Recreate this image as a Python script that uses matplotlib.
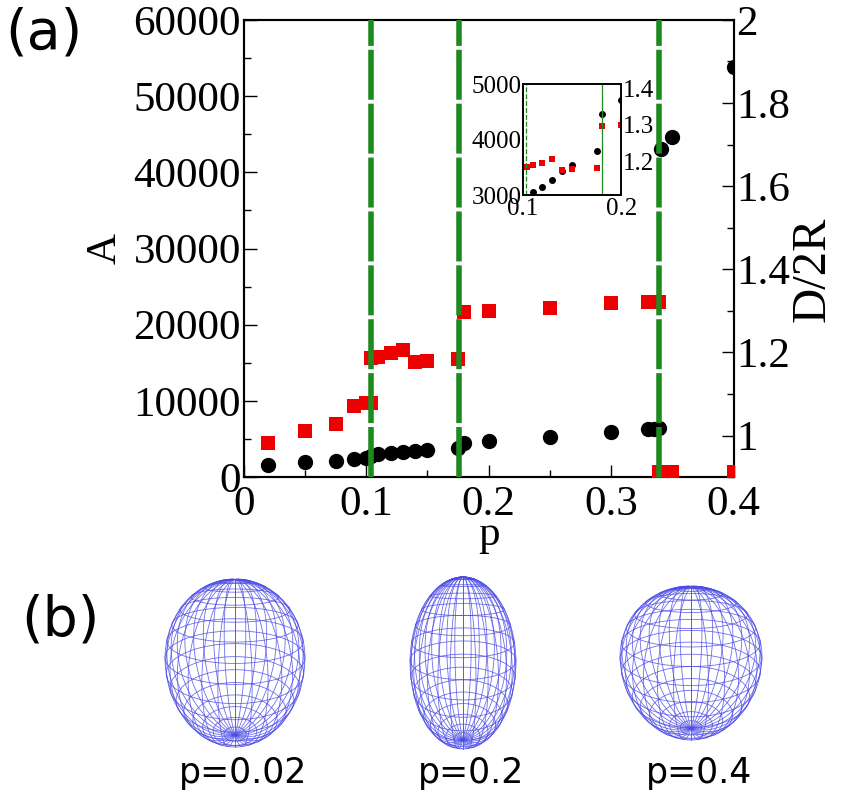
import numpy as np
import matplotlib.pyplot as plt
from matplotlib.ticker import MultipleLocator

# ---- data ----
p_A = [0.02, 0.05, 0.075, 0.09, 0.1, 0.104, 0.11, 0.12, 0.13, 0.14, 0.15,
       0.175, 0.18, 0.2, 0.25, 0.3, 0.33, 0.335, 0.339, 0.341, 0.35, 0.4]
A = [1570, 2000, 2100, 2450, 2580, 2800, 3050, 3150, 3280, 3430, 3550,
     3800, 4460, 4720, 5280, 5940, 6290, 6350, 6400, 43060, 44630, 53800]

p_D = [0.02, 0.05, 0.075, 0.09, 0.1, 0.104, 0.104, 0.11, 0.12, 0.13, 0.14,
       0.15, 0.175, 0.18, 0.2, 0.25, 0.3, 0.33, 0.335, 0.339, 0.339, 0.345,
       0.35, 0.4]
D = [0.982, 1.010, 1.028, 1.071, 1.079, 1.079, 1.186, 1.190, 1.198, 1.207,
     1.178, 1.180, 1.184, 1.297, 1.300, 1.308, 1.318, 1.321, 1.321, 1.321,
     0.913, 0.913, 0.913, 0.913]

p_trans = [0.104, 0.1755, 0.339]      # dashed green lines
p_trans_inset = [0.103, 0.18]

# shapes in panel (b): half extents on screen (px) and egg taper
shape_p = ["p=0.02", "p=0.2", "p=0.4"]
shape_a = [70, 53, 71]
shape_c = [84, 86, 77]
shape_k = [0.06, 0.0, 0.10]

SERIF = "Liberation Serif"
GREEN = "#1f8a1f"
WIRE = "#4b4be6"

fig = plt.figure(figsize=(8.52, 7.94), dpi=100)

# ---- panel (a) ----
ax = fig.add_axes([0.286, 0.399, 0.575, 0.576])
ax2 = ax.twinx()

ax.plot(p_A, A, "o", color="black", ms=10, zorder=3)
ax2.plot(p_D, D, "s", color="#ee0000", ms=10, mew=0, zorder=3)
for pt in p_trans:
    ax2.axvline(pt, color=GREEN, lw=4, ls=(0, (9, 0.7)), zorder=5)

ax.set_xlim(0, 0.4)
ax.set_ylim(0, 60000)
ax2.set_ylim(0.9, 2.0)
ax.xaxis.set_major_locator(MultipleLocator(0.1))
ax.xaxis.set_minor_locator(MultipleLocator(0.05))
ax.yaxis.set_major_locator(MultipleLocator(10000))
ax.yaxis.set_minor_locator(MultipleLocator(5000))
ax2.yaxis.set_major_locator(MultipleLocator(0.2))
ax2.yaxis.set_minor_locator(MultipleLocator(0.1))
ax.set_xticks([0, 0.1, 0.2, 0.3, 0.4])
ax.set_xticklabels(["0", "0.1", "0.2", "0.3", "0.4"])
ax2.set_yticks([1, 1.2, 1.4, 1.6, 1.8, 2])
ax2.set_yticklabels(["1", "1.2", "1.4", "1.6", "1.8", "2"])

for a in (ax, ax2):
    a.tick_params(which="both", direction="in", labelsize=31, width=1,
                  pad=2)
    a.tick_params(which="major", length=9)
    a.tick_params(which="minor", length=5)
    for lab in a.get_xticklabels() + a.get_yticklabels():
        lab.set_family(SERIF)
    for s in a.spines.values():
        s.set_linewidth(1.5)
ax.tick_params(axis="x", pad=6)

ax.set_xlabel("p", family=SERIF, fontsize=31, labelpad=-6)
ax.set_ylabel("A", family=SERIF, fontsize=31, labelpad=6)
ax2.set_ylabel("D/2R", family=SERIF, fontsize=35, labelpad=0)
ax2.yaxis.label.set_y(0.455)

# inset
axi = fig.add_axes([0.6135, 0.7544, 0.1157, 0.1394])
axi2 = axi.twinx()
axi.plot(p_A, A, "o", color="black", ms=4)
axi2.plot(p_D, D, "s", color="#ee0000", ms=4, mew=0)
axi2.axvline(p_trans_inset[0], color=GREEN, lw=0.9, ls=(0, (4, 1.5)))
axi2.axvline(p_trans_inset[1], color=GREEN, lw=0.9)
axi.set_xlim(0.1, 0.2)
axi.set_ylim(3000, 5000)
axi2.set_ylim(1.11, 1.41)
axi.set_xticks([0.1, 0.2])
axi.set_xticklabels(["0.1", "0.2"])
axi.set_yticks([3000, 4000, 5000])
axi2.set_yticks([1.2, 1.3, 1.4])
for a in (axi, axi2):
    a.tick_params(length=0, labelsize=18, pad=1)
    for lab in a.get_xticklabels() + a.get_yticklabels():
        lab.set_family(SERIF)
    for s in a.spines.values():
        s.set_linewidth(1.2)
axi.tick_params(axis="x", pad=2)

fig.text(0.052, 0.958, "(a)", fontsize=40, ha="center", va="center",
         family="DejaVu Sans")

# ---- panel (b): wireframe ellipsoids ----
axb = fig.add_axes([0, 0, 1, 0.29])
axb.set_xlim(0, 852)
axb.set_ylim(0, 0.29 * 794)
axb.set_axis_off()

centers_x = [235, 463, 691]
center_y = 131
tilt = np.radians(-24)
dist = 4.0
u_lines = np.linspace(0, 2 * np.pi, 33)[:-1]
v_lines = np.linspace(0, np.pi, 17)
u_f = np.linspace(0, 2 * np.pi, 240)
v_f = np.linspace(0, np.pi, 240)


def project(x, y, z):
    # tip the bottom pole into view, mild perspective
    yr = y * np.cos(tilt) + z * np.sin(tilt)
    zr = -y * np.sin(tilt) + z * np.cos(tilt)
    f = dist / (dist + yr)
    return x * f, zr * f


for cx, a_, c_, k_, lab in zip(centers_x, shape_a, shape_c, shape_k, shape_p):
    ratio = c_ / a_
    curves = []
    for uu in u_lines:
        r = np.sin(v_f) * (1 + k_ * np.cos(v_f))
        curves.append(project(r * np.cos(uu), r * np.sin(uu),
                              ratio * np.cos(v_f)))
    for vv in v_lines[1:-1]:
        r = np.sin(vv) * (1 + k_ * np.cos(vv))
        curves.append(project(r * np.cos(u_f), r * np.sin(u_f),
                              np.full_like(u_f, ratio * np.cos(vv))))
    xs = np.concatenate([c[0] for c in curves])
    zs = np.concatenate([c[1] for c in curves])
    x0, x1, z0, z1 = xs.min(), xs.max(), zs.min(), zs.max()
    for x, zz in curves:
        px = cx + (x - (x0 + x1) / 2) / (x1 - x0) * 2 * a_
        pz = center_y + (zz - (z0 + z1) / 2) / (z1 - z0) * 2 * c_
        axb.plot(px, pz, color=WIRE, lw=0.6, alpha=0.8)
    axb.text(cx + 8, 21, lab, fontsize=25, ha="center", va="center",
             family="DejaVu Sans")

fig.text(0.071, 0.219, "(b)", fontsize=40, ha="center", va="center",
         family="DejaVu Sans")

fig.savefig("out.png", dpi=100)
